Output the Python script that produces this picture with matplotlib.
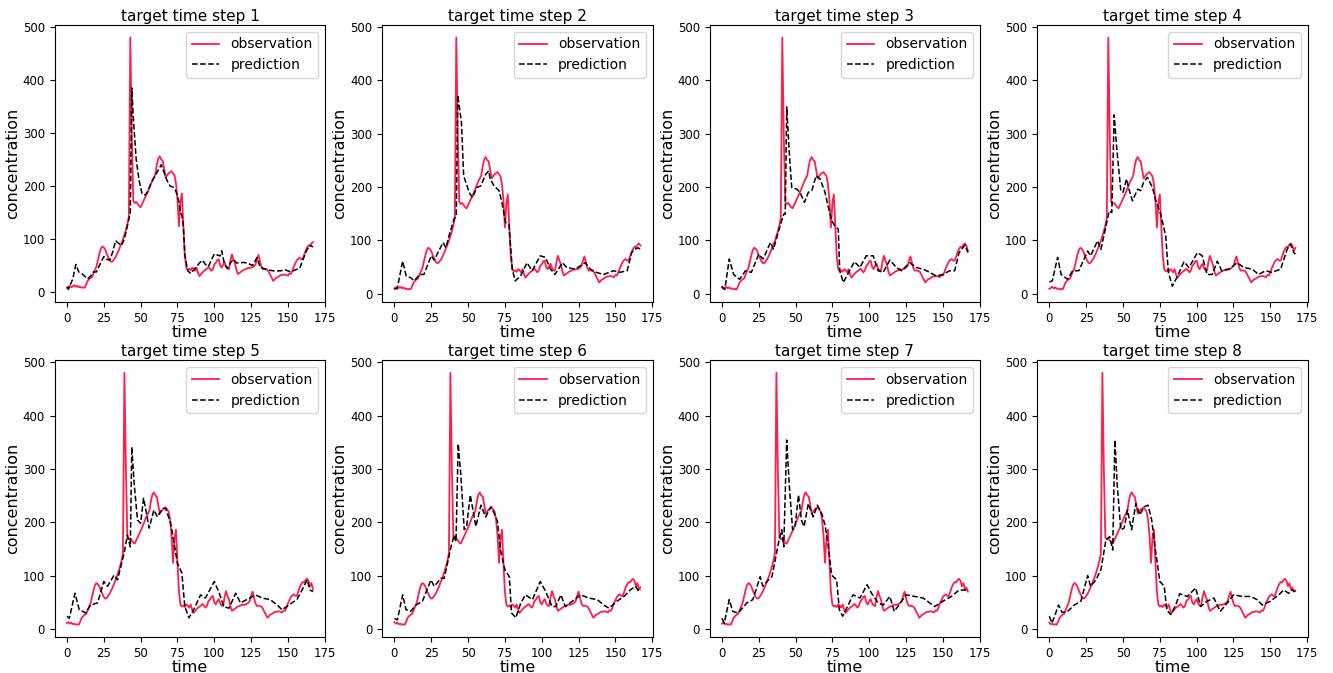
import numpy as np
from matplotlib import pyplot as plt

# observed concentration, one value per hour (window of step k starts at index k-1)
obs_base = [8, 10, 12, 9, 11, 13, 10, 12, 9, 10,
            8, 9, 8, 14, 21, 24, 27, 28, 35, 42,
            48, 60, 72, 82, 86, 84, 80, 72, 66, 60,
            57, 58, 62, 66, 72, 78, 85, 92, 99, 108,
            117, 128, 142, 480, 300, 172, 168, 170, 166, 162,
            160, 166, 172, 178, 184, 190, 197, 204, 211, 216,
            222, 240, 252, 256, 250, 248, 232, 216, 220, 224,
            226, 228, 224, 220, 205, 175, 124, 170, 186, 125,
            70, 46, 42, 44, 41, 46, 44, 40, 46, 36,
            30, 34, 37, 40, 42, 44, 47, 44, 40, 43,
            52, 55, 60, 62, 50, 46, 52, 56, 48, 44,
            43, 60, 71, 62, 55, 42, 34, 36, 38, 40,
            42, 43, 44, 46, 45, 46, 47, 49, 52, 62,
            70, 58, 48, 43, 44, 43, 42, 38, 32, 27,
            21, 24, 27, 28, 30, 32, 32, 33, 33, 32,
            31, 35, 34, 40, 48, 54, 60, 63, 65, 62,
            62, 70, 78, 84, 88, 87, 92, 94, 90, 80,
            86, 74, 78, 70, 72]
n_points = 168

pred1_t = [0, 1, 2, 4, 6, 8, 10, 12, 14, 16, 18, 20, 22, 25, 27, 29, 31, 33, 35, 37,
           39, 41, 43, 44, 45, 47, 49, 51, 53, 55, 57, 59, 61, 63, 64, 66, 68, 70, 72, 74,
           76, 77, 78, 79, 80, 82, 84, 86, 88, 90, 92, 94, 96, 98, 100, 102, 104, 105, 107, 109,
           111, 113, 115, 117, 120, 123, 126, 129, 131, 133, 136, 140, 145, 148, 150, 152, 155, 158, 160, 163,
           165, 167]
pred1_v = [10, 5, 12, 25, 52, 38, 35, 30, 25, 30, 38, 38, 50, 67, 62, 60, 75, 97, 92, 88,
           100, 125, 150, 385, 330, 250, 210, 185, 183, 190, 205, 215, 225, 235, 240, 225, 210, 200, 198, 190,
           170, 150, 145, 125, 70, 40, 35, 42, 48, 55, 60, 52, 48, 60, 72, 70, 68, 78, 52, 45,
           55, 62, 55, 55, 56, 54, 50, 65, 48, 45, 42, 40, 40, 42, 40, 38, 42, 45, 60, 80,
           88, 85]

pred2_t = [0, 2, 5.6, 8, 11, 13.5, 17, 20, 25, 27, 33, 35, 37, 40.5, 42, 43, 45.5, 47, 50.7, 53,
           56, 58.6, 62, 64, 65, 67.6, 71, 73, 75.5, 77.7, 80, 82, 85.6, 90, 93.5, 99, 102.5, 106, 109, 114,
           117, 123, 126, 129.5, 133, 137, 142, 148.6, 153, 158, 161, 163, 165.5, 167]
pred2_v = [8, 11, 61, 33, 30, 24, 36, 36, 71, 63, 96, 86, 108, 140, 146, 372, 321, 221, 190, 180,
           199, 202, 224, 230, 215, 202, 193, 171, 133, 130, 46, 24, 33, 58, 43, 71, 68, 46, 36, 58,
           49, 46, 52, 58, 46, 40, 36, 43, 40, 43, 77, 83, 86, 83]

pred3_t = [0, 2, 5, 8, 12, 16, 20, 25, 28, 33, 35, 39.5, 42, 43, 44, 45.6, 47.4, 50.8, 53, 56,
           58.7, 61, 64, 66.6, 70, 72, 74.5, 76.7, 79, 80, 82.4, 84.7, 90, 93.7, 98, 102.7, 106, 109.5, 114, 118.5,
           122, 127.5, 132, 136.6, 141, 145.6, 150, 154.6, 158, 161, 165, 167]
pred3_v = [14, 8, 65, 36, 27, 43, 40, 74, 65, 96, 83, 127, 149, 149, 350, 271, 199, 196, 190, 171,
           190, 193, 221, 215, 190, 165, 137, 127, 121, 43, 21, 33, 60, 49, 71, 71, 43, 40, 63, 49,
           43, 58, 49, 46, 40, 33, 36, 43, 43, 77, 91, 77]

pred4_t = [0, 2, 5.6, 8, 12.4, 15.8, 20, 26, 28, 32.7, 35, 38, 40.6, 42.4, 44, 45.8, 48.5, 50, 52.4, 54,
           56.4, 60, 62, 64, 66.6, 70, 72, 75.6, 79, 80.8, 83.5, 87, 91.4, 94.8, 100.5, 103.8, 107, 110.6, 114, 117,
           122, 127.5, 132, 137.7, 142, 146.7, 151, 157, 161.4, 163.6, 166, 167]
pred4_v = [22, 24, 68, 36, 27, 43, 43, 80, 71, 99, 83, 121, 155, 152, 335, 271, 193, 190, 215, 196,
           174, 196, 193, 209, 218, 199, 177, 149, 108, 40, 14, 33, 60, 49, 77, 71, 36, 36, 61, 43,
           46, 58, 49, 46, 36, 43, 40, 46, 83, 93, 77, 74]

pred5_t = [0, 1.6, 5.4, 8.4, 12.9, 16, 20.8, 25, 27.5, 32, 34.3, 38.8, 41, 43, 44, 45.6, 47.9, 50, 52, 54,
           55.8, 59, 61.4, 64.8, 67, 70.4, 72.7, 75, 78, 80, 82.8, 86, 90.7, 94, 100, 103, 106.5, 110, 114.5, 117.8,
           122, 128, 132.5, 138, 142.7, 146, 150.6, 156, 159.6, 163, 165, 167]
pred5_v = [24, 20, 67, 36, 30, 45, 49, 89, 80, 101, 92, 142, 176, 154, 341, 273, 204, 198, 245, 217,
           189, 223, 210, 226, 226, 198, 161, 123, 105, 42, 21, 36, 64, 58, 89, 70, 42, 39, 67, 49,
           55, 64, 58, 55, 45, 36, 45, 55, 73, 92, 73, 70]

pred6_t = [0, 2, 5.6, 7.9, 11, 14.7, 19, 24.8, 27, 31.6, 33.8, 38.4, 40.6, 41.8, 43.3, 45, 47.4, 49, 51.5, 53.7,
           55.3, 58.7, 62, 65.5, 67.7, 70, 72, 75, 78, 79.5, 82.4, 85.8, 89, 93.7, 99, 102.7, 107, 109.5, 113, 116,
           120.8, 126.4, 132, 137.7, 142, 145.6, 151, 155.8, 160, 163.6, 166, 167]
pred6_v = [20, 17, 64, 36, 33, 45, 52, 92, 80, 95, 95, 154, 176, 164, 347, 291, 186, 192, 251, 217,
           192, 232, 210, 229, 217, 201, 148, 111, 98, 30, 21, 49, 64, 55, 89, 70, 42, 42, 64, 42,
           52, 64, 58, 55, 45, 39, 52, 61, 73, 80, 70, 73]

pred7_t = [0, 1.6, 5, 7.4, 11, 17, 21, 26, 27.8, 31.6, 34, 38.4, 40.6, 42, 44, 45.8, 48, 49.7, 52, 54,
           55.8, 58.7, 62, 64.8, 67.7, 70, 72, 74.5, 77.9, 79.7, 82, 85.8, 89, 93.7, 98.6, 101.6, 106, 109.5, 114, 117,
           122, 125, 131, 136.6, 141, 144.5, 150, 155.8, 161, 166, 167]
pred7_v = [20, 11, 55, 33, 30, 49, 55, 98, 80, 92, 98, 161, 186, 154, 354, 267, 186, 192, 251, 204,
           192, 235, 210, 232, 217, 195, 161, 101, 92, 36, 24, 45, 64, 58, 83, 67, 49, 45, 61, 33,
           52, 64, 61, 58, 49, 42, 52, 61, 73, 73, 70]

pred8_t = [0, 1.8, 6.3, 8.6, 12.4, 17, 21.4, 26, 28, 31.6, 35, 38.4, 41, 43, 44.5, 46, 48.5, 50.8, 53, 55.8,
           58.7, 61.4, 64.3, 67, 69.5, 72, 75, 78, 79.7, 82.4, 85.8, 88.5, 93.7, 99.3, 102.7, 107, 111.7, 116, 120.8, 125,
           131, 136.6, 141, 144.5, 150, 155.8, 159, 162.5, 164.8, 167]
pred8_v = [24, 11, 45, 31, 33, 45, 52, 100, 80, 92, 111, 167, 173, 148, 354, 273, 186, 189, 223, 186,
           235, 214, 229, 232, 204, 148, 89, 80, 36, 27, 45, 66, 61, 77, 42, 52, 58, 33, 49, 64,
           61, 61, 55, 45, 52, 64, 73, 67, 73, 70]

titles = ['target time step %d' % i for i in range(1, 9)]


def main():
    preds = [(pred1_t, pred1_v), (pred2_t, pred2_v), (pred3_t, pred3_v), (pred4_t, pred4_v),
             (pred5_t, pred5_v), (pred6_t, pred6_v), (pred7_t, pred7_v), (pred8_t, pred8_v)]
    t = np.arange(n_points)

    fig, axes = plt.subplots(2, 4, figsize=(13.33, 6.73), dpi=100)
    fig.subplots_adjust(left=0.041, right=0.981, top=0.963, bottom=0.053,
                        wspace=0.21, hspace=0.21)

    for k, ax in enumerate(axes.flat):
        obs = obs_base[k:k + n_points]
        ax.plot(t, obs, color='#ff1f4b', lw=1.3, label='observation')
        ax.plot(preds[k][0], preds[k][1], 'k--', lw=1.1, label='prediction')
        ax.set_title(titles[k], fontsize=11, pad=3)
        ax.set_xlabel('time', fontsize=11.5, labelpad=0)
        ax.set_ylabel('concentration', fontsize=11.5, labelpad=2)
        ax.set_xticks([0, 25, 50, 75, 100, 125, 150, 175])
        ax.set_yticks([0, 100, 200, 300, 400, 500])
        ax.tick_params(labelsize=8.5)
        ax.legend(loc='upper right', fontsize=10)

    plt.savefig('out.png', dpi=100)


if __name__ == '__main__':
    main()
